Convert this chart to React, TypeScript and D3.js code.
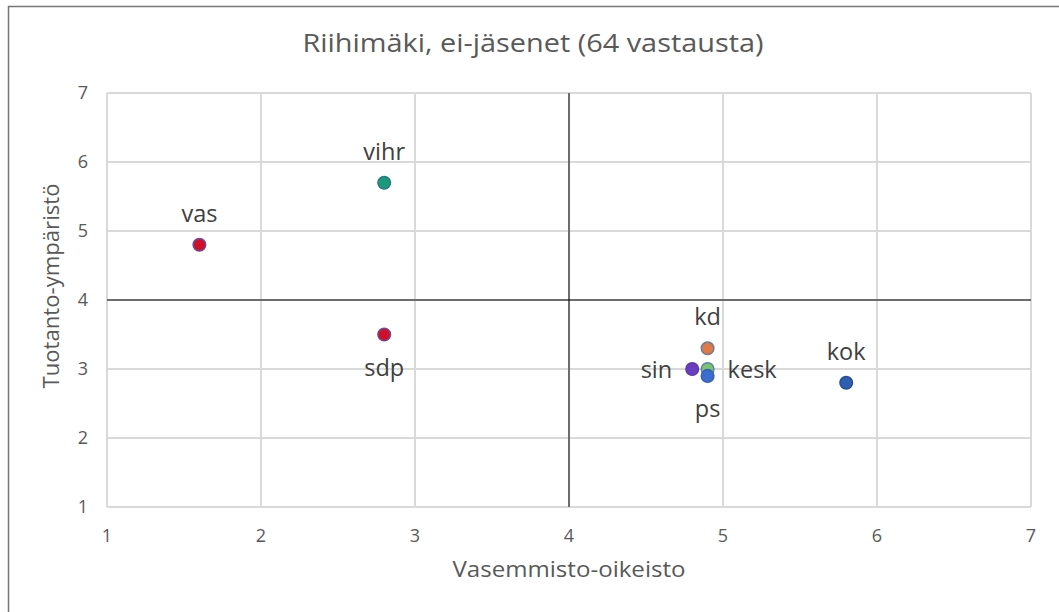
import React from "react";
import * as d3 from "d3";

const parties = ["vas", "vihr", "sdp", "kd", "kesk", "ps", "sin", "kok"];
const xValues = [1.6, 2.8, 2.8, 4.9, 4.9, 4.9, 4.8, 5.8];
const yValues = [4.8, 5.7, 3.5, 3.3, 3.0, 2.9, 3.0, 2.8];
const fills = ["#d0102a", "#1a9a78", "#d0102a", "#e07a45", "#7cc46a", "#3a6fd0", "#6a3dc0", "#2f5fb0"];
const strokes = ["#6a4a9a", "#2a7a8a", "#6a4a9a", "#6a7aa0", "#5a80b0", "#3a5fb8", "#5a3aa8", "#2a4f98"];
const labelPos = ["top", "top", "bottom", "top", "right", "bottom", "left", "top"];
const ticks = [1, 2, 3, 4, 5, 6, 7];

const W = 1059, H = 612;
const left = 107, right = 1031, top = 93, bottom = 507;

export default function App() {
  const x = d3.scaleLinear().domain([1, 7]).range([left, right]);
  const y = d3.scaleLinear().domain([1, 7]).range([bottom, top]);
  const font = "'Open Sans', 'Noto Sans', sans-serif";
  const drawOrder = [0, 1, 2, 3, 6, 4, 5, 7];
  return (
    <svg width={W} height={H} style={{ position: "absolute", left: 0, top: 0 }} fontFamily={font}>
      <rect x={0} y={0} width={W} height={H} fill="#fff" />
      <rect x={8.5} y={6.5} width={W + 10} height={H + 10} fill="none" stroke="#767676" strokeWidth={1.5} />
      <text x={533} y={52} textAnchor="middle" fontSize={25} fill="#595959" textLength={461} lengthAdjust="spacingAndGlyphs">Riihimäki, ei-jäsenet (64 vastausta)</text>
      {ticks.map((t) => (
        <line key={"gx" + t} x1={x(t)} x2={x(t)} y1={top} y2={bottom} stroke="#d9d9d9" strokeWidth={2} />
      ))}
      {ticks.map((t) => (
        <line key={"gy" + t} x1={left} x2={right} y1={y(t)} y2={y(t)} stroke="#d9d9d9" strokeWidth={2} />
      ))}
      <line x1={x(4)} x2={x(4)} y1={top} y2={bottom} stroke="#000" strokeWidth={1} />
      <line x1={left} x2={right} y1={y(4)} y2={y(4)} stroke="#000" strokeWidth={1} />
      {ticks.map((t) => (
        <text key={"tx" + t} x={x(t)} y={542} textAnchor="middle" fontSize={18} fill="#595959">{t}</text>
      ))}
      {ticks.map((t) => (
        <text key={"ty" + t} x={88} y={y(t) + 6} textAnchor="end" fontSize={18} fill="#595959">{t}</text>
      ))}
      <text x={569} y={577} textAnchor="middle" fontSize={21} fill="#595959" textLength={233} lengthAdjust="spacingAndGlyphs">Vasemmisto-oikeisto</text>
      <text transform={`translate(59,286) rotate(-90)`} textAnchor="middle" fontSize={21} fill="#595959" textLength={205} lengthAdjust="spacingAndGlyphs">Tuotanto-ympäristö</text>
      {drawOrder.map((i) => (
        <circle key={"p" + i} cx={x(xValues[i])} cy={y(yValues[i])} r={6.3} fill={fills[i]} stroke={strokes[i]} strokeWidth={1.5} />
      ))}
      {parties.map((p, i) => {
        const cx = x(xValues[i]);
        const cy = y(yValues[i]);
        let tx = cx, ty = cy, anchor = "middle";
        if (labelPos[i] === "top") { ty = cy - 23; }
        else if (labelPos[i] === "bottom") { ty = cy + 41; }
        else if (labelPos[i] === "right") { tx = cx + 20; ty = cy + 9; anchor = "start"; }
        else { tx = cx - 20; ty = cy + 9; anchor = "end"; }
        return (
          <text key={"l" + i} x={tx} y={ty} textAnchor={anchor} fontSize={23.5} fill="#404040">{p}</text>
        );
      })}
    </svg>
  );
}
